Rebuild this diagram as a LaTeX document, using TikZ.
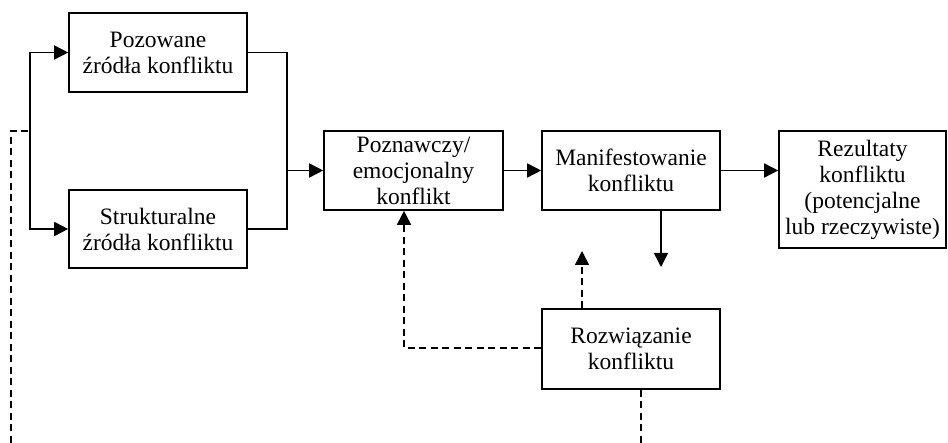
\documentclass[tikz,border=0pt]{standalone}
\usepackage{fontspec}
\setmainfont{Liberation Serif}
\usetikzlibrary{arrows.meta}
\begin{document}
\begin{tikzpicture}[x=1pt,y=-1pt,
  box/.style={draw,line width=1.6pt,align=center,inner sep=0pt,
    font=\fontsize{23.5}{26}\selectfont},
  link/.style={line width=1.6pt},
  arr/.style={link,-{Triangle[length=14pt,width=14pt]}},
  fb/.style={link,dash pattern=on 7pt off 4.5pt},
  fbarr/.style={fb,-{Triangle[length=14pt,width=14pt]}}]
\useasboundingbox (0,0) rectangle (948,443);

% boxes
\node[box,minimum width=178pt,minimum height=79pt] (poz) at (158,52.5) {Pozowane\\źródła konfliktu};
\node[box,minimum width=178pt,minimum height=78pt] (str) at (158,229) {Strukturalne\\źródła konfliktu};
\node[box,minimum width=179pt,minimum height=79pt] (pzn) at (413.5,170.5) {Poznawczy/\\emocjonalny\\konflikt};
\node[box,minimum width=178pt,minimum height=79pt] (man) at (631,170.5) {Manifestowanie\\konfliktu};
\node[box,minimum width=167pt,minimum height=117pt] (rez) at (862.5,189.5) {Rezultaty\\konfliktu\\(potencjalne\\lub rzeczywiste)};
\node[box,minimum width=178pt,minimum height=80pt] (roz) at (631,349) {Rozwiązanie\\konfliktu};

% split and merge points
\coordinate (split) at (30,131);
\coordinate (merge) at (287,170.5);
\coordinate (lowL) at (11,443);
\coordinate (topL) at (11,131);
\coordinate (manout) at (661,267);
\coordinate (rozup) at (582,251);
\coordinate (rozfb) at (404,348);
\coordinate (lowR) at (641,443);

% solid flow
\draw[arr] (split) |- (poz.west);
\draw[arr] (split) |- (str.west);
\draw[link] (poz.east) -| (merge);
\draw[link] (str.east) -| (merge);
\draw[arr] (merge) -- (pzn.west);
\draw[arr] (pzn.east) -- (man.west);
\draw[arr] (man.east) -- (man.east -| rez.west);
\draw[arr] (man.south -| manout) -- (manout);

% dashed feedback
\draw[fbarr] (roz.north -| rozup) -- (rozup);
\draw[fbarr] (roz.west |- rozfb) -| (rozfb |- pzn.south);
\draw[fb] (roz.south -| lowR) -- (lowR);
\draw[fb] (lowL) -- (topL) -- (split);
\end{tikzpicture}
\end{document}
